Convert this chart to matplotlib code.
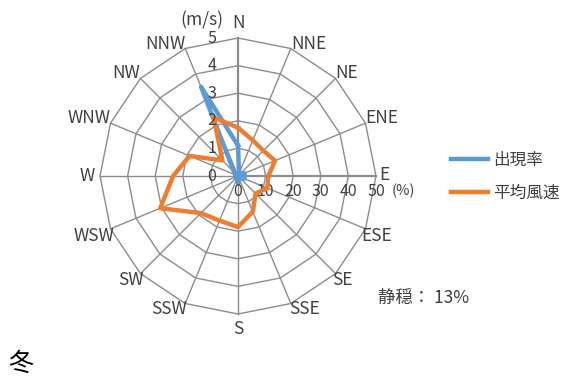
import matplotlib.pyplot as plt
import numpy as np
from matplotlib.transforms import offset_copy

plt.rcParams['font.family'] = ['Noto Sans CJK JP', 'DejaVu Sans']

# data
directions = ["N", "NNE", "NE", "ENE", "E", "ESE", "SE", "SSE",
              "S", "SSW", "SW", "WSW", "W", "WNW", "NW", "NNW"]
freq = [11, 1, 1, 2.5, 2.5, 2.5, 1, 1, 2.5, 1, 1, 1, 1, 1, 2, 35]   # 出現率 (%)
speed = [1.75, 1.4, 1.3, 1.45, 1.1, 1.15, 0.9, 1.4,
         1.85, 1.75, 1.9, 3.05, 2.35, 1.9, 0.8, 2.3]                # 平均風速 (m/s)
freq_ticks = [0, 10, 20, 30, 40, 50]
speed_ticks = [0, 1, 2, 3, 4, 5]
calm = "静穏： 13%"
season = "冬"

BLUE = "#5B9BD5"
ORANGE = "#ED7D31"
GRID = "#8C8C8C"
TEXT = "#404040"


def setup(ax, rmax):
    ax.set_theta_zero_location("N")
    ax.set_theta_direction(-1)
    ax.set_ylim(0, rmax)
    ax.grid(False)
    ax.set_xticks([])
    ax.set_yticks([])
    ax.spines["polar"].set_visible(False)
    ax.patch.set_alpha(0)


def label_place(i, n, rmax):
    # where and how each direction label sits outside the polygon
    if i == 0:
        return rmax * 1.075, "center", "baseline"
    if i == n // 2:
        return rmax * 1.045, "center", "top"
    if i == n // 4:
        return rmax * 1.02, "left", "baseline"
    if i == 3 * n // 4:
        return rmax * 1.035, "right", "center"
    ha = "left" if i < n // 2 else "right"
    va = "baseline" if (i < n // 4 or i > 3 * n // 4) else "top"
    r = rmax * 1.0 if va == "baseline" else rmax * 0.97
    return r, ha, va


def draw():
    fig = plt.figure(figsize=(5.66, 3.82), dpi=100)
    rect = [0.1767, 0.178, 0.4876, 0.7225]
    ax = fig.add_axes(rect, polar=True)
    ax2 = fig.add_axes(rect, polar=True)
    setup(ax, freq_ticks[-1])
    setup(ax2, speed_ticks[-1])

    n = len(directions)
    theta = np.arange(n) * 2 * np.pi / n
    closed = np.append(theta, theta[0])

    # polygon grid
    for r in freq_ticks[1:]:
        ax.plot(closed, [r] * (n + 1), color=GRID, lw=1.0, clip_on=False, zorder=1)
    for i, t in enumerate(theta):
        lw = 1.6 if i in (0, 4) else 1.0
        ax.plot([t, t], [0, freq_ticks[-1]], color=GRID, lw=lw, clip_on=False, zorder=1)

    # series
    l1, = ax.plot(closed, freq + freq[:1], color=BLUE, lw=3.2, clip_on=False, zorder=3)
    l2, = ax2.plot(closed, speed + speed[:1], color=ORANGE, lw=3.2, clip_on=False, zorder=3)

    # direction labels
    for i, (t, d) in enumerate(zip(theta, directions)):
        r, ha, va = label_place(i, n, freq_ticks[-1])
        if i == n // 4:
            ax.text(t, r, d, ha=ha, va=va, fontsize=12.5, color=TEXT,
                    transform=offset_copy(ax.transData, fig=fig, x=0, y=-4, units="dots"))
        else:
            ax.text(t, r, d, ha=ha, va=va, fontsize=12.5, color=TEXT)

    # percent tick labels along E axis
    tr = offset_copy(ax.transData, fig=fig, x=0, y=-15, units="dots")
    for v in freq_ticks:
        ax.text(np.pi / 2, v, str(v), transform=tr, ha="center", va="center",
                fontsize=11.5, color=TEXT)
    ax.text(np.pi / 2, freq_ticks[-1], "(%)", fontsize=10.5, color=TEXT,
            transform=offset_copy(ax.transData, fig=fig, x=27, y=-15, units="dots"),
            ha="center", va="center")

    # speed tick labels along N axis
    tr2 = offset_copy(ax2.transData, fig=fig, x=-26, y=0, units="dots")
    for v in speed_ticks:
        ax2.text(0, v, str(v), transform=tr2, ha="center", va="center",
                 fontsize=11.5, color=TEXT)
    fig.text(202 / 566, 1 - 20 / 382, "(m/s)", ha="center", va="center",
             fontsize=12.5, color=TEXT)

    # legend
    fig.legend([l1, l2], ["出現率", "平均風速"], loc="center left",
               bbox_to_anchor=(0.771, 0.537), frameon=False, fontsize=12,
               handlelength=2.2, labelspacing=1.0, handletextpad=0.3,
               labelcolor=TEXT)

    fig.text(378 / 566, 1 - 298 / 382, calm, ha="left", va="center",
             fontsize=12.5, color=TEXT)
    fig.text(8 / 566, 1 - 364 / 382, season, ha="left", va="center", fontsize=18)

    fig.savefig("out.png", dpi=100)


def main():
    draw()


if __name__ == "__main__":
    main()
